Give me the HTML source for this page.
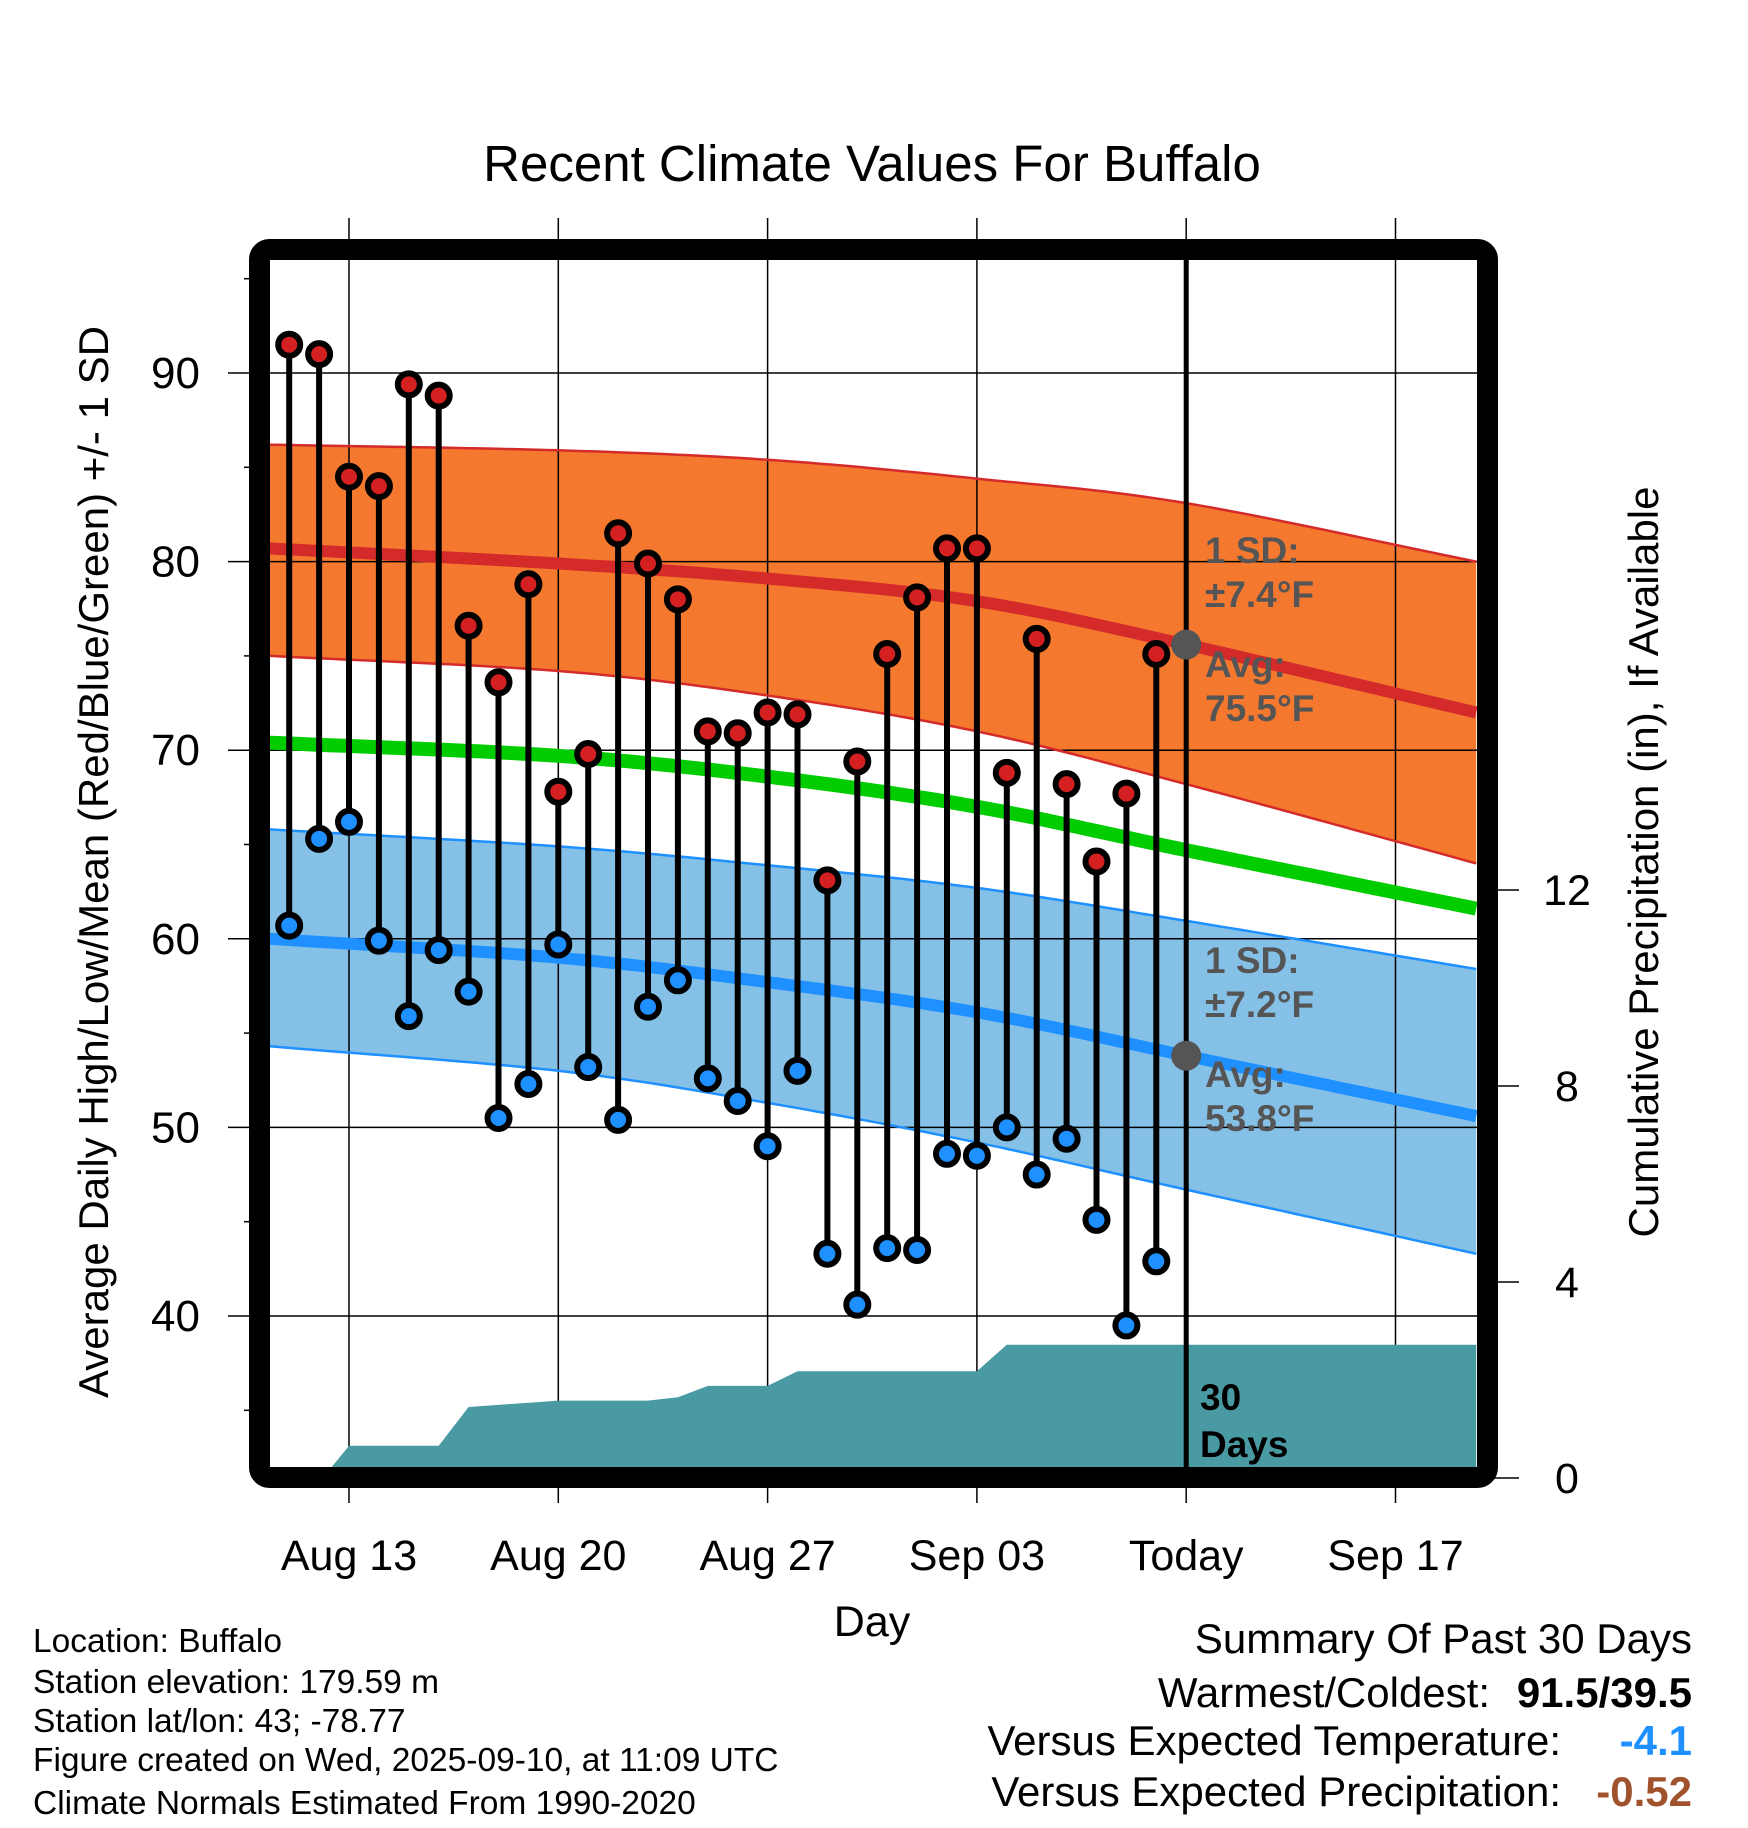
<!DOCTYPE html>
<html><head><meta charset="utf-8"><style>
body{margin:0;background:#fff}
svg{display:block;font-family:"Liberation Sans",sans-serif}
</style></head><body>
<svg id="chart" width="1748" height="1828" viewBox="0 0 1748 1828" xmlns="http://www.w3.org/2000/svg">
<defs><clipPath id="plotclip"><rect x="270" y="260" width="1208" height="1208"/></clipPath></defs>
<g id="bands" clip-path="url(#plotclip)"></g>
<g id="grid"></g>
<g id="precip" clip-path="url(#plotclip)"></g>
<g id="lines" clip-path="url(#plotclip)"></g>
<g id="marks"></g>
<g id="labels"></g>
</svg>
<script>
// ---- data ----
const dayLabels = ["Aug 13","Aug 20","Aug 27","Sep 03","Today","Sep 17"];
const labelDays = [0,7,14,21,28,35];
const obsDays = [-2,-1,0,1,2,3,4,5,6,7,8,9,10,11,12,13,14,15,16,17,18,19,20,21,22,23,24,25,26,27];
const highs = [91.5,91,84.5,84,89.4,88.8,76.6,73.6,78.8,67.8,69.8,81.5,79.9,78,71,70.9,72,71.9,63.1,69.4,75.1,78.1,80.7,80.7,68.8,75.9,68.2,64.1,67.7,75.1];
const lows = [60.7,65.3,66.2,59.9,55.9,59.4,57.2,50.5,52.3,59.7,53.2,50.4,56.4,57.8,52.6,51.4,49,53,43.3,40.6,43.6,43.5,48.6,48.5,50,47.5,49.4,45.1,39.5,42.9];
const normDays = [-2.64,7,14,21,28,37.7];
const avgHigh = [80.7,79.9,79.1,77.9,75.6,72.0];
const upperHigh = [86.2,85.9,85.4,84.4,83.1,80.0];
const lowerHigh = [75.0,74.2,72.9,71.0,68.2,64.0];
const avgMean = [70.4,69.7,68.6,67.0,64.7,61.6];
const avgLow = [60.0,59.0,57.7,56.1,53.8,50.6];
const upperLow = [65.8,64.9,63.9,62.7,60.95,58.4];
const lowerLow = [54.3,53.0,51.3,49.2,46.7,43.3];
const precipDays = [-2.64,-0.66,0,3,4,7,10,11,12,14,15,21,22,37.7];
const precipVals = [0,0,0.66,0.66,1.45,1.58,1.58,1.65,1.88,1.88,2.18,2.18,2.72,2.72];
const yTicks = [40,50,60,70,80,90];
const pTicks = [0,4,8,12];

// ---- scales ----
const NS="http://www.w3.org/2000/svg";
const X = d => 349 + d*29.9;
const Y = v => 373 + (90-v)*18.86;
const P = p => 1478 - p*49;
function el(tag, attrs, parent, text){const e=document.createElementNS(NS,tag);for(const k in attrs)e.setAttribute(k,attrs[k]);if(text!==undefined)e.textContent=text;parent.appendChild(e);return e;}
// smooth Catmull-Rom through data points (pixel space)
function curve(arr){
  const pts=normDays.map((d,i)=>[X(d),Y(arr[i])]);
  const n=pts.length, out=[];
  const g=i=>{if(i<0){return [2*pts[0][0]-pts[1][0],2*pts[0][1]-pts[1][1]];}if(i>=n){return [2*pts[n-1][0]-pts[n-2][0],2*pts[n-1][1]-pts[n-2][1]];}return pts[i];};
  for(let i=0;i<n-1;i++){
    const p0=g(i-1),p1=g(i),p2=g(i+1),p3=g(i+2);
    for(let s=0;s<20;s++){const t=s/20,t2=t*t,t3=t2*t;
      const f=k=>0.5*((2*p1[k])+(-p0[k]+p2[k])*t+(2*p0[k]-5*p1[k]+4*p2[k]-p3[k])*t2+(-p0[k]+3*p1[k]-3*p2[k]+p3[k])*t3);
      out.push([f(0),f(1)]);}
  }
  out.push(pts[n-1]);
  out.unshift([pts[0][0]-30,pts[0][1]+(pts[0][1]-pts[1][1])*30/(pts[1][0]-pts[0][0])]);
  return out;
}
function yAt(arr,d){const c=curve(arr),x=X(d);for(let i=0;i<c.length-1;i++){if(c[i][0]<=x&&c[i+1][0]>=x){const t=(x-c[i][0])/(c[i+1][0]-c[i][0]);return c[i][1]+(c[i+1][1]-c[i][1])*t;}}return c[c.length-1][1];}
const ptsStr = p => p.map(q=>q[0].toFixed(1)+","+q[1].toFixed(1)).join(" ");

const bands=document.getElementById('bands'), grid=document.getElementById('grid'), precip=document.getElementById('precip'), lines=document.getElementById('lines'), marks=document.getElementById('marks'), labels=document.getElementById('labels');

let b;
b=el('polygon',{points:ptsStr(curve(upperHigh).concat(curve(lowerHigh).reverse())),fill:'#f4792f'},bands);

b=el('polygon',{points:ptsStr(curve(upperLow).concat(curve(lowerLow).reverse())),fill:'#85c1e7'},bands);


yTicks.forEach(v=>{
  let g=el('line',{x1:228,x2:1478,y1:Y(v),y2:Y(v),stroke:'#000','stroke-width':1.5},grid);
  
  let t=el('text',{x:200,y:Y(v)+15,'text-anchor':'end','font-size':44},labels,String(v));
  
});
[35,45,55,65,75,85,95].forEach(v=>{
  let g=el('line',{x1:244,x2:260,y1:Y(v),y2:Y(v),stroke:'#000','stroke-width':1.5},grid);
  
});
labelDays.forEach((d,i)=>{
  let g=el('line',{x1:X(d),x2:X(d),y1:218,y2:1503,stroke:'#000','stroke-width':1.5},grid);
  
  let t=el('text',{x:X(d),y:1570,'text-anchor':'middle','font-size':43},labels,dayLabels[i]);
  
});
pTicks.forEach(p=>{
  let g=el('line',{x1:1488,x2:1519,y1:P(p),y2:P(p),stroke:'#000','stroke-width':1.5},grid);
  
  let t=el('text',{x:1567,y:P(p)+15,'text-anchor':'middle','font-size':43},labels,String(p));
  
});

const pp=[[X(precipDays[0]),1470]];
precipDays.forEach((d,i)=>pp.push([X(d),Math.min(1470,P(precipVals[i]))]));
pp.push([X(precipDays[precipDays.length-1]),1470]);
b=el('polygon',{points:ptsStr(pp),fill:'#4a9aa3'},precip);


[[upperHigh,'#d42a2a',2.5,'high-upper-edge'],[lowerHigh,'#d42a2a',2.5,'high-lower-edge'],[upperLow,'#1e90ff',2.5,'low-upper-edge'],[lowerLow,'#1e90ff',2.5,'low-lower-edge'],[avgHigh,'#d42a2a',12,'avg-high-line'],[avgMean,'#00cc00',14,'avg-mean-line'],[avgLow,'#1e90ff',12,'avg-low-line']].forEach(a=>{
  let l=el('polyline',{points:ptsStr(curve(a[0])),fill:'none',stroke:a[1],'stroke-width':a[2]},lines);
  
});

let tl=el('line',{x1:X(28),x2:X(28),y1:260,y2:1468,stroke:'#000','stroke-width':5},marks);


obsDays.forEach((d,i)=>{
  const x=X(d);
  let s=el('line',{x1:x,x2:x,y1:Y(highs[i]),y2:Y(lows[i]),stroke:'#000','stroke-width':6},marks);
  
  let c1=el('circle',{cx:x,cy:Y(highs[i]),r:11,fill:'#d42020',stroke:'#000','stroke-width':6},marks);
  
  let c2=el('circle',{cx:x,cy:Y(lows[i]),r:11,fill:'#1e90ff',stroke:'#000','stroke-width':6},marks);
  
});
[[avgHigh,'today-avg-high-dot'],[avgLow,'today-avg-low-dot']].forEach(a=>{
  let c=el('circle',{cx:X(28),cy:yAt(a[0],28),r:15,fill:'#555'},marks);
  
});
</script>
<svg style="position:absolute;left:0;top:0" width="1748" height="1828" xmlns="http://www.w3.org/2000/svg" font-family="Liberation Sans, sans-serif">
<rect x="259.5" y="249.5" width="1228" height="1228" rx="10" fill="none" stroke="#000" stroke-width="21"/>
<text x="872" y="181" text-anchor="middle" font-size="51">Recent Climate Values For Buffalo</text>
<g font-size="37" font-weight="bold" fill="#555">
<text x="1205" y="563">1 SD:</text><text x="1205" y="607">±7.4°F</text>
<text x="1205" y="677">Avg:</text><text x="1205" y="721">75.5°F</text>
</g>
<g font-size="37" font-weight="bold" fill="#555">
<text x="1205" y="973">1 SD:</text><text x="1205" y="1017">±7.2°F</text>
<text x="1205" y="1087">Avg:</text><text x="1205" y="1131">53.8°F</text>
</g>
<g font-size="37" font-weight="bold" fill="#000">
<text x="1200" y="1410">30</text><text x="1200" y="1457">Days</text>
</g>
<text x="872" y="1636" text-anchor="middle" font-size="43">Day</text>
<text transform="translate(108,862) rotate(-90)" text-anchor="middle" font-size="42">Average Daily High/Low/Mean (Red/Blue/Green) +/- 1 SD</text>
<text transform="translate(1658,862) rotate(-90)" text-anchor="middle" font-size="42">Cumulative Precipitation (in), If Available</text>
<g font-size="33.5">
<text x="33" y="1652">Location: Buffalo</text>
<text x="33" y="1693">Station elevation: 179.59 m</text>
<text x="33" y="1732">Station lat/lon: 43; -78.77</text>
<text x="33" y="1771">Figure created on Wed, 2025-09-10, at 11:09 UTC</text>
<text x="33" y="1814">Climate Normals Estimated From 1990-2020</text>
</g>
<g font-size="42">
<text x="1692" y="1653" text-anchor="end">Summary Of Past 30 Days</text>
<text x="1490" y="1707" text-anchor="end">Warmest/Coldest:</text>
<text x="1692" y="1707" text-anchor="end" font-weight="bold">91.5/39.5</text>
<text x="1561" y="1755" text-anchor="end">Versus Expected Temperature:</text>
<text x="1692" y="1755" text-anchor="end" font-weight="bold" fill="#1e90ff">-4.1</text>
<text x="1561" y="1806" text-anchor="end">Versus Expected Precipitation:</text>
<text x="1692" y="1806" text-anchor="end" font-weight="bold" fill="#a0522d">-0.52</text>
</g>
</svg>
</body></html>
